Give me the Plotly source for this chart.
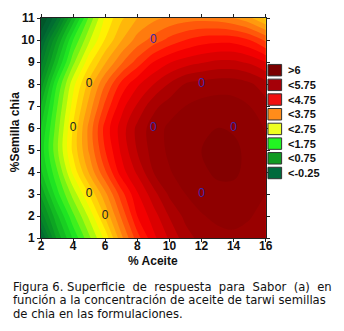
import plotly.graph_objects as go

# ---------------- data ----------------
ACEITE = [2, 3, 4, 5, 6, 7, 8, 9, 10, 11, 12, 13, 14, 15, 16]
SEMILLA = [1, 2, 3, 4, 5, 6, 7, 8, 9, 10, 11]

# Sabor surface (rows = SEMILLA, cols = ACEITE)
SABOR_Y1 = [-0.30, 0.82, 1.54, 2.19, 2.83, 3.67, 4.39, 4.93, 5.29, 5.64, 5.84, 5.92, 5.95, 5.90, 5.78]
SABOR_Y2 = [0.35, 1.19, 1.94, 2.56, 3.29, 4.04, 4.75, 5.13, 5.52, 5.82, 5.98, 6.06, 6.08, 6.02, 5.90]
SABOR_Y3 = [0.80, 1.66, 2.35, 3.02, 3.68, 4.39, 4.97, 5.40, 5.80, 6.00, 6.12, 6.20, 6.20, 6.12, 6.00]
SABOR_Y4 = [1.20, 1.97, 2.82, 3.54, 4.22, 4.88, 5.30, 5.75, 5.98, 6.12, 6.22, 6.28, 6.28, 6.20, 6.05]
SABOR_Y5 = [1.35, 2.20, 3.07, 3.79, 4.50, 5.05, 5.52, 5.86, 6.05, 6.17, 6.25, 6.30, 6.29, 6.20, 6.05]
SABOR_Y6 = [1.25, 2.13, 3.03, 3.83, 4.60, 5.11, 5.57, 5.88, 6.05, 6.15, 6.22, 6.25, 6.23, 6.13, 5.98]
SABOR_Y7 = [1.00, 1.98, 2.86, 3.60, 4.32, 4.90, 5.29, 5.67, 5.88, 6.00, 6.08, 6.10, 6.08, 6.00, 5.85]
SABOR_Y8 = [0.60, 1.75, 2.66, 3.35, 3.99, 4.57, 4.95, 5.24, 5.52, 5.77, 5.85, 5.90, 5.90, 5.80, 5.60]
SABOR_Y9 = [0.15, 1.19, 2.17, 2.92, 3.47, 3.95, 4.35, 4.75, 4.98, 5.12, 5.22, 5.30, 5.30, 5.20, 5.00]
SABOR_Y10 = [-0.30, 0.75, 1.75, 2.46, 3.02, 3.48, 3.85, 4.10, 4.33, 4.50, 4.62, 4.66, 4.65, 4.50, 4.20]
SABOR_Y11 = [-0.80, -0.03, 1.08, 2.06, 2.80, 3.20, 3.50, 3.68, 3.80, 3.88, 3.90, 3.87, 3.75, 3.55, 3.20]
SABOR = [SABOR_Y1, SABOR_Y2, SABOR_Y3, SABOR_Y4, SABOR_Y5, SABOR_Y6,
         SABOR_Y7, SABOR_Y8, SABOR_Y9, SABOR_Y10, SABOR_Y11]

# design points (formulations)
PTS_LEFT_X = [4, 5, 5, 6]
PTS_LEFT_Y = [6, 8, 3, 2]
PTS_RIGHT_X = [9, 12, 9, 14, 12]
PTS_RIGHT_Y = [10, 8, 6, 6, 3]

LEGEND_LABELS = [">6", "<5.75", "<4.75", "<3.75", "<2.75", "<1.75", "<0.75", "<-0.25"]
LEGEND_COLORS = ["#7a0000", "#a50008", "#f01010", "#ff8c1a", "#eeff22", "#22f522", "#119a22", "#006a3c"]

X_TICKS = [2, 4, 6, 8, 10, 12, 14, 16]
Y_TICKS = [1, 2, 3, 4, 5, 6, 7, 8, 9, 10, 11]

CAPTION = [
    "Figura 6. Superficie\u00a0 de\u00a0 respuesta\u00a0 para\u00a0 Sabor\u00a0 (a)\u00a0 en",
    "función a la concentración de aceite de tarwi semillas",
    "de chia en las formulaciones.",
]

# ---------------- colours ----------------
c_start, c_end, c_size = -1.0, 6.5, 0.25
lo, hi = c_start - c_size / 2, c_end + c_size / 2
stops = [(-1.125, "#00441f"), (-0.25, "#006633"), (0.75, "#0a9a22"), (1.75, "#22ee22"),
         (2.75, "#ffff00"), (3.75, "#ff8c10"), (4.75, "#ff0000"), (5.75, "#9e0000"),
         (6.625, "#7a0000")]
colorscale = [[(v - lo) / (hi - lo), c] for v, c in stops]

FONT_B = "Liberation Sans, Arial, sans-serif"

# page layout (figure sits 8px inside the page body)
W, H = 328, 315
ML, MR, MT, MB = 32.8, 3, 5.5, 84.8
PW = W - ML - MR
PH = H - MT - MB
MAIN_FRAC = 230.4 / PW
LEG0 = (231.2) / PW

fig = go.Figure()
fig.add_trace(go.Contour(
    x=ACEITE, y=SEMILLA, z=SABOR,
    colorscale=colorscale, showscale=False,
    contours=dict(start=c_start, end=c_end, size=c_size, coloring="fill"),
    line=dict(width=0, smoothing=1.0),
    hoverinfo="skip",
))
fig.add_trace(go.Scatter(
    x=PTS_LEFT_X, y=PTS_LEFT_Y, mode="text", text=["0"] * len(PTS_LEFT_X),
    textfont=dict(family=FONT_B, size=12, color="#222222"),
    textposition="middle center", showlegend=False, hoverinfo="skip",
))
fig.add_trace(go.Scatter(
    x=PTS_RIGHT_X, y=PTS_RIGHT_Y, mode="text", text=["0"] * len(PTS_RIGHT_X),
    textfont=dict(family=FONT_B, size=12, color="#3a2ab0"),
    textposition="middle center", showlegend=False, hoverinfo="skip",
))
# invisible trace to establish legend axes
fig.add_trace(go.Scatter(x=[0], y=[0], xaxis="x2", yaxis="y2", mode="markers",
                         marker=dict(opacity=0), showlegend=False, hoverinfo="skip"))

leg_w = (1 - LEG0) * PW
shapes = []
annotations = []
for k, (lab, col) in enumerate(zip(LEGEND_LABELS, LEGEND_COLORS)):
    shapes.append(dict(type="rect", xref="x2", yref="y2", x0=-7, x1=7,
                       y0=k - 0.39, y1=k + 0.39, fillcolor=col,
                       line=dict(color="#333333", width=1)))
    annotations.append(dict(xref="x2", yref="y2", x=11, y=k, text=lab, showarrow=False,
                            xanchor="left", yanchor="middle",
                            font=dict(family=FONT_B, size=11, color="#111111", weight="bold")))

annotations.append(dict(xref="paper", yref="paper", x=MAIN_FRAC / 2, y=-0.104, text="% Aceite",
                        showarrow=False, xanchor="center", yanchor="middle",
                        font=dict(family=FONT_B, size=12, color="#111111", weight="bold")))
annotations.append(dict(xref="paper", yref="paper", x=(7 - ML) / PW, y=0.48, text="%Semilla chia",
                        showarrow=False, xanchor="center", yanchor="middle", textangle=-90,
                        font=dict(family=FONT_B, size=12, color="#111111", weight="bold")))
caption_centers = [280.0, 293.7, 307.4]   # figure px from top
for line, cy in zip(CAPTION, caption_centers):
    annotations.append(dict(xref="paper", yref="paper", x=(3 - ML) / PW,
                            y=(H - MB - cy) / PH,
                            text=line, showarrow=False, xanchor="left", yanchor="middle",
                            borderpad=0,
                            font=dict(family="DejaVu Sans, sans-serif", size=11.6, color="#111111")))

axis_common = dict(showline=True, linecolor="#222222", linewidth=1, mirror="ticks",
                   ticks="outside", ticklen=3, tickwidth=1, tickcolor="#222222",
                   showgrid=False, zeroline=False,
                   tickfont=dict(family=FONT_B, size=12, color="#111111", weight="bold"))

fig.update_layout(
    width=W, height=H,
    margin=dict(l=ML, r=MR, t=MT, b=MB),
    paper_bgcolor="white", plot_bgcolor="white",
    xaxis=dict(domain=[0, MAIN_FRAC], range=[2, 16], tickvals=X_TICKS,
               ticklabelstandoff=-6, **axis_common),
    yaxis=dict(domain=[0, 1], range=[1, 11], tickvals=Y_TICKS, **axis_common),
    xaxis2=dict(domain=[LEG0, 1.0], range=[-8.5, leg_w - 8.5], visible=False, anchor="y2"),
    yaxis2=dict(domain=[0, 1], range=[11.427, -3.553], visible=False, anchor="x2"),
    shapes=shapes, annotations=annotations, showlegend=False,
)

fig.write_html("out.html")
